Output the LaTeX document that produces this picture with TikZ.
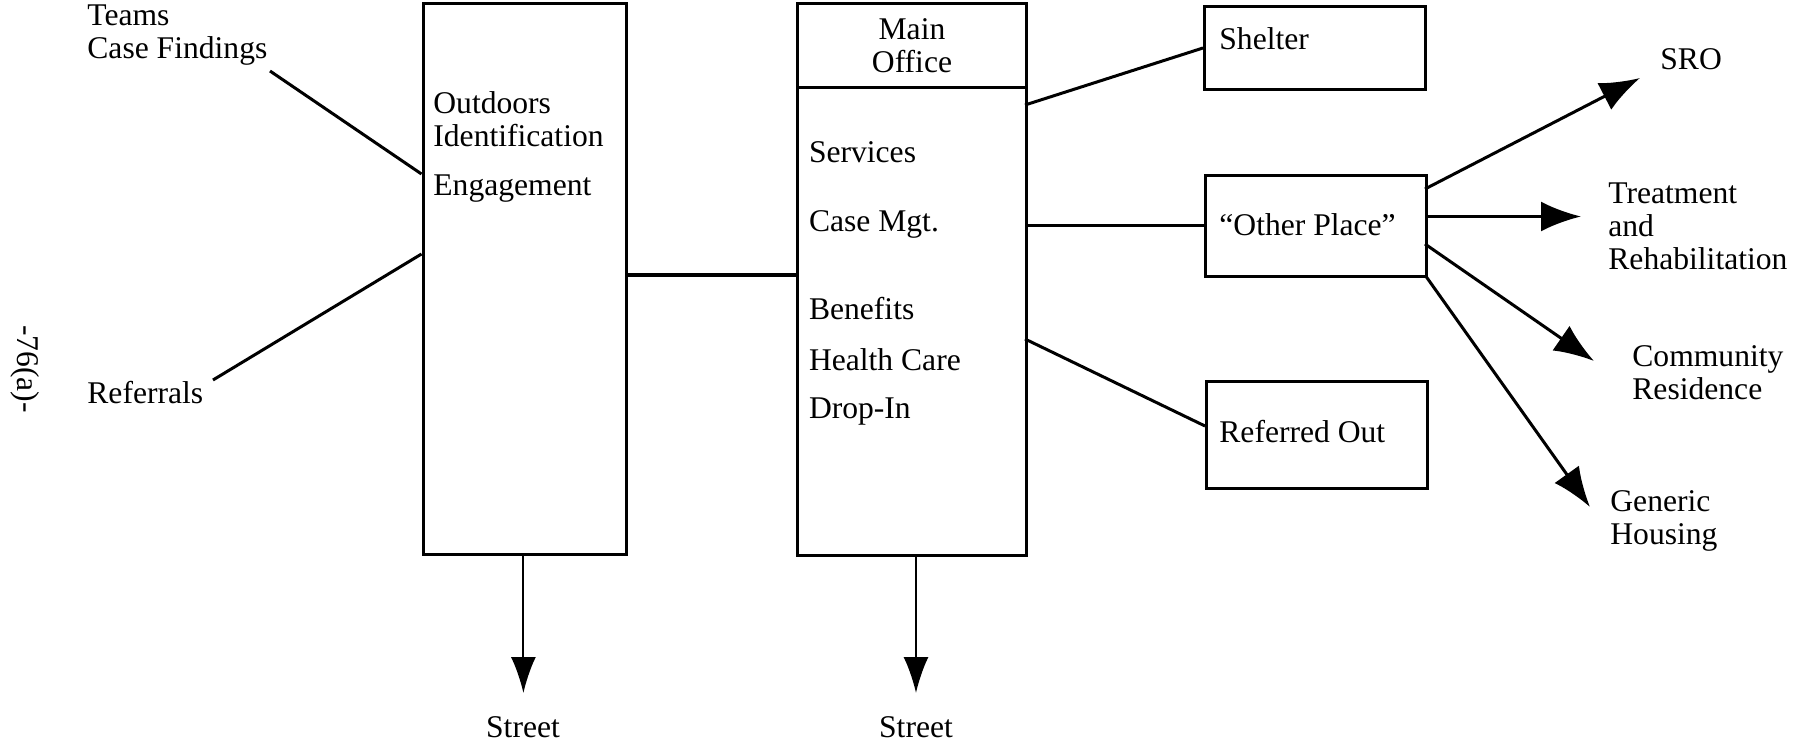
\documentclass[tikz,border=0pt]{standalone}
\usepackage{fontspec}
\setmainfont{Liberation Serif}
\usetikzlibrary{arrows.meta}
\begin{document}
\begin{tikzpicture}[x=0.5pt,y=-0.5pt,
  box/.style={draw,line width=1.5pt,inner sep=0pt,anchor=north west},
  txt/.style={inner sep=0pt,font=\fontsize{15.8pt}{16.5pt}\selectfont},
  lbl/.style={txt,anchor=west,align=left},
  conn/.style={line width=1.5pt},
  thick conn/.style={line width=2.4pt},
  arr/.style={line width=1.5pt,-{Latex[length=20pt,width=15pt]}},
  darr/.style={line width=1pt,-{Latex[length=18pt,width=12.5pt]}}]
\useasboundingbox (0,0) rectangle (1796,744);

% boxes
\node[box,minimum width=101.75pt,minimum height=275.4pt] (lbox) at (421.5,2.3) {};
\node[box,minimum width=114.5pt,minimum height=275.9pt] (main) at (796,2.3) {};
\node[box,minimum width=114.5pt,minimum height=41.85pt,txt,align=center] (mainhead) at (796,2.3) {Main\\Office};
\node[box,minimum width=110.5pt,minimum height=41.8pt] (shelter) at (1203,4.6) {};
\node[box,minimum width=110.5pt,minimum height=50.5pt] (other) at (1204,174) {};
\node[box,minimum width=110.5pt,minimum height=53.5pt] (refout) at (1205,380) {};

% texts
\node[lbl] (teams) at (87,35) {Teams\\Case Findings};
\node[lbl] (referrals) at (87,393) {Referrals};
\node[txt,rotate=-90] (pagenum) at (25,369) {-76(a)-};
\node[lbl] (outdoors) at (433,119) {Outdoors\\Identification};
\node[lbl] (engage) at (433,189) {Engagement};
\node[lbl] (services) at (808.6,152) {Services};
\node[lbl] (casemgt) at (808.6,224.5) {Case Mgt.};
\node[lbl] (benefits) at (808.6,309) {Benefits};
\node[lbl] (health) at (808.6,360) {Health Care};
\node[lbl] (dropin) at (808.6,412) {Drop-In};
\node[lbl] (sheltert) at (1219,39) {Shelter};
\node[lbl] (othert) at (1219,224.5) {``Other Place''};
\node[lbl] (refoutt) at (1219,432) {Referred Out};
\node[lbl] (sro) at (1660,59.5) {SRO};
\node[lbl] (treat) at (1608,226.8) {Treatment\\and\\Rehabilitation};
\node[lbl] (comm) at (1632,372.7) {Community\\Residence};
\node[lbl] (generic) at (1610,520.5) {Generic\\Housing};
\node[txt] (street1) at (523,727) {Street};
\node[txt] (street2) at (916,727) {Street};

% connector end points
\coordinate (cfend) at (270,71);
\coordinate (refend) at (213,380);
\coordinate (lbA) at (421.5,174);
\coordinate (lbB) at (421.5,254);
\coordinate (lbR) at (625,275);
\coordinate (mL) at (796,275);
\coordinate (mR1) at (1025,105);
\coordinate (mR2) at (1025,225.6);
\coordinate (mR3) at (1025,339);
\coordinate (shL) at (1203,48);
\coordinate (otL) at (1204,225.6);
\coordinate (roL) at (1205,426);
\coordinate (otR1) at (1425,189);
\coordinate (otR2) at (1425,216.5);
\coordinate (otR3) at (1425,244);
\coordinate (otR4) at (1425,275);
\coordinate (sroTip) at (1640,78);
\coordinate (trTip) at (1581,216.5);
\coordinate (coTip) at (1594,361);
\coordinate (geTip) at (1590,507);
\coordinate (lbBot) at (523.4,553);
\coordinate (mBot) at (916,554);
\coordinate (st1Tip) at (523.4,693);
\coordinate (st2Tip) at (916,693);

% connectors
\draw[conn] (cfend) -- (lbA);
\draw[conn] (refend) -- (lbB);
\draw[thick conn] (lbR) -- (mL);
\draw[conn] (mR1) -- (shL);
\draw[conn] (mR2) -- (otL);
\draw[conn] (mR3) -- (roL);
\draw[arr] (otR1) -- (sroTip);
\draw[arr] (otR2) -- (trTip);
\draw[arr] (otR3) -- (coTip);
\draw[arr] (otR4) -- (geTip);
\draw[darr] (lbBot) -- (st1Tip);
\draw[darr] (mBot) -- (st2Tip);
\end{tikzpicture}
\end{document}
